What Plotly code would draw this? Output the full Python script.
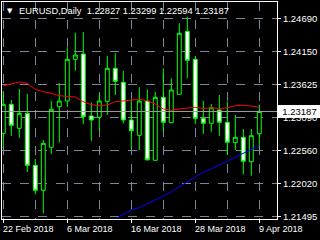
import plotly.graph_objects as go

dates = ["2018-02-22", "2018-02-23", "2018-02-26", "2018-02-27", "2018-02-28",
         "2018-03-01", "2018-03-02", "2018-03-05", "2018-03-06", "2018-03-07",
         "2018-03-08", "2018-03-09", "2018-03-12", "2018-03-13", "2018-03-14",
         "2018-03-15", "2018-03-16", "2018-03-19", "2018-03-20", "2018-03-21",
         "2018-03-22", "2018-03-23", "2018-03-26", "2018-03-27", "2018-03-28",
         "2018-03-29", "2018-03-30", "2018-04-02", "2018-04-03", "2018-04-04",
         "2018-04-05", "2018-04-06", "2018-04-09"]

opens = [1.22834, 1.23302, 1.22915, 1.23157, 1.22318, 1.21915, 1.22609, 1.23264,
         1.23356, 1.24028, 1.24114, 1.23114, 1.23093, 1.23351, 1.23883, 1.23657,
         1.23049, 1.22802, 1.23356, 1.22399, 1.23415, 1.23006, 1.23464, 1.24480,
         1.24028, 1.23076, 1.22996, 1.23210, 1.23012, 1.22683, 1.22770, 1.22376,
         1.22827]
highs = [1.23517, 1.23372, 1.23549, 1.23469, 1.22420, 1.22726, 1.23360, 1.23641,
         1.24222, 1.24458, 1.24469, 1.23335, 1.23469, 1.24082, 1.24125, 1.23840,
         1.23360, 1.23577, 1.23544, 1.23501, 1.23883, 1.23722, 1.24609, 1.24716,
         1.24070, 1.23360, 1.23307, 1.23452, 1.23344, 1.23130, 1.22904, 1.22904,
         1.23299]
lows = [1.22592, 1.22791, 1.22763, 1.22210, 1.21850, 1.21544, 1.22500, 1.22689,
        1.23264, 1.23845, 1.22980, 1.22715, 1.22876, 1.23130, 1.23452, 1.22996,
        1.22592, 1.22565, 1.22392, 1.22395, 1.22860, 1.22996, 1.23460, 1.23722,
        1.22980, 1.22823, 1.22860, 1.22791, 1.22484, 1.22565, 1.22173, 1.22150,
        1.22594]
closes = [1.23302, 1.22963, 1.23157, 1.22318, 1.21915, 1.22673, 1.23222, 1.23356,
          1.24028, 1.24098, 1.23102, 1.23049, 1.23356, 1.23883, 1.23673, 1.23049,
          1.22876, 1.23356, 1.22408, 1.23415, 1.23012, 1.23533, 1.24448, 1.24012,
          1.23076, 1.22996, 1.23247, 1.23012, 1.22689, 1.22770, 1.22383, 1.22796,
          1.23187]

ma_red = [1.23602, 1.23630, 1.23662, 1.23641, 1.23544, 1.23506, 1.23480, 1.23441,
          1.23431, 1.23420, 1.23344, 1.23296, 1.23280, 1.23291, 1.23344, 1.23360,
          1.23372, 1.23383, 1.23360, 1.23307, 1.23227, 1.23210, 1.23227, 1.23243,
          1.23254, 1.23235, 1.23247, 1.23231, 1.23247, 1.23280, 1.23286, 1.23275,
          1.23254]
ma_blue_start = 14
ma_blue = [1.21456, 1.21526, 1.21597, 1.21637, 1.21697, 1.21758, 1.21823, 1.21892,
           1.21973, 1.22049, 1.22137, 1.22210, 1.22262, 1.22326, 1.22391, 1.22455,
           1.22521, 1.22586, 1.22638]

price_ticks = [1.24690, 1.24150, 1.23625, 1.23090, 1.22560, 1.22020, 1.21495]
date_tick_idx = [0, 8, 16, 24, 32]
date_tick_labels = ["22 Feb 2018", "6 Mar 2018", "16 Mar 2018", "28 Mar 2018", "9 Apr 2018"]
symbol_title = "EURUSD,Daily"

FONT = "Liberation Sans, Arial, sans-serif"
GRID = "#778899"

idx = list(range(len(dates)))

fig = go.Figure()
fig.add_trace(go.Candlestick(
    x=idx, open=opens, high=highs, low=lows, close=closes,
    increasing=dict(line=dict(color="#00ff00", width=1), fillcolor="#000000"),
    decreasing=dict(line=dict(color="#00ff00", width=1), fillcolor="#ffffff"),
    whiskerwidth=0, showlegend=False, hoverinfo="skip",
))
fig.add_trace(go.Scatter(x=idx, y=ma_red, mode="lines",
                         line=dict(color="#ff0000", width=1), showlegend=False, hoverinfo="skip"))
fig.add_trace(go.Scatter(x=idx[ma_blue_start:], y=ma_blue, mode="lines",
                         line=dict(color="#0000ff", width=1), showlegend=False, hoverinfo="skip"))

last = len(closes) - 1
fig.add_shape(type="line", xref="paper", x0=0, x1=1, yref="y", y0=closes[last], y1=closes[last],
              line=dict(color="#a0a0a0", width=1), layer="above")

annotations = []
for i, lab in zip(date_tick_idx, date_tick_labels):
    annotations.append(dict(x=i, xref="x", y=-0.015, yref="paper", text=lab, showarrow=False,
                            xanchor="left", yanchor="top", xshift=-2,
                            font=dict(family=FONT, size=9, color="#ffffff")))
annotations.append(dict(x=1, xref="paper", xshift=1, y=closes[last], yref="y",
                        text=f"{closes[last]:.5f}", showarrow=False, xanchor="left", yanchor="middle",
                        bgcolor="#ffffff", bordercolor="#ffffff", borderpad=0, width=41,
                        align="center", font=dict(family=FONT, size=9.5, color="#000000")))
annotations.append(dict(x=0.012, xref="paper", y=1, yref="paper", yshift=-3, text="▼",
                        showarrow=False, xanchor="left", yanchor="top",
                        font=dict(family="DejaVu Sans", size=7, color="#ffffff")))
annotations.append(dict(x=0.055, xref="paper", y=1, yref="paper", yshift=-2,
                        text=f"{symbol_title}  {opens[last]:.5f} {highs[last]:.5f} {lows[last]:.5f} {closes[last]:.5f}",
                        showarrow=False, xanchor="left", yanchor="top",
                        font=dict(family=FONT, size=9.3, color="#ffffff")))

fig.update_layout(
    width=320, height=240,
    margin=dict(l=2, r=43, t=2, b=21),
    paper_bgcolor="#000000", plot_bgcolor="#000000",
    annotations=annotations,
    xaxis=dict(range=[-0.1625, 34.2125], tickmode="array", tickvals=date_tick_idx,
               ticktext=["" for _ in date_tick_idx], ticks="outside", ticklen=3, tickcolor="#ffffff",
               showgrid=True, gridcolor=GRID, griddash="dash", gridwidth=1,
               minor=dict(tickmode="array", tickvals=[4, 12, 20, 28], showgrid=True,
                          gridcolor=GRID, griddash="dash", gridwidth=1, ticks=""),
               showline=True, linecolor="#ffffff", linewidth=1, mirror=True,
               zeroline=False, rangeslider=dict(visible=False), fixedrange=True),
    yaxis=dict(range=[1.21452, 1.24953], side="right", tickmode="array", tickvals=price_ticks,
               ticktext=[f"{p:.5f}" for p in price_ticks], ticks="outside", ticklen=3,
               tickcolor="#ffffff", tickfont=dict(family=FONT, size=9.5, color="#ffffff"),
               showgrid=True, gridcolor=GRID, griddash="dash", gridwidth=1,
               showline=True, linecolor="#ffffff", linewidth=1, mirror=True,
               zeroline=False, fixedrange=True),
)

fig.write_html("out.html", config={"displayModeBar": False})
